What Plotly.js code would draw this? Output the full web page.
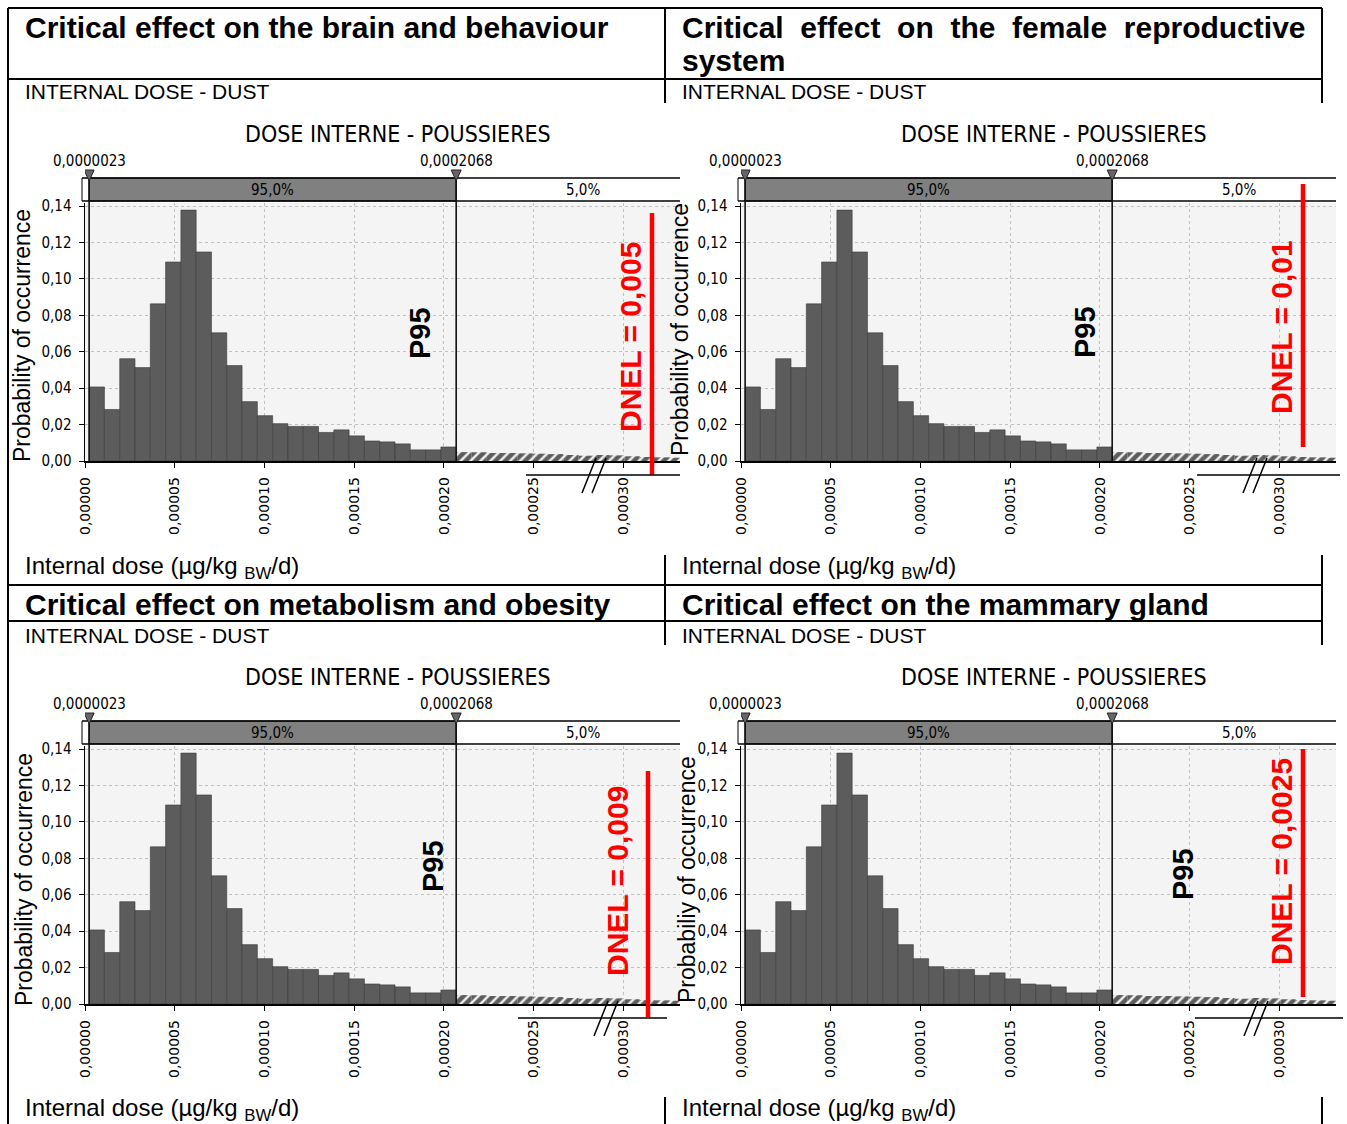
<!DOCTYPE html>
<html><head><meta charset="utf-8">
<script src="https://cdn.plot.ly/plotly-3.0.1.min.js"></script>
<style>html,body{margin:0;padding:0;background:#fff;}#chart{width:1347px;height:1124px;}</style>
</head><body><div id="chart"></div>
<script>
// ---------------- DATA ----------------
const panelTitles = ["Critical effect on the brain and behaviour",
  "Critical effect on the female reproductive system",
  "Critical effect on metabolism and obesity",
  "Critical effect on the mammary gland"];
const panelSubtitle = "INTERNAL DOSE - DUST";
const chartTitle = "DOSE INTERNE - POUSSIERES";
const yAxisTitles = ["Probability of occurrence", "Probability of occurrence",
  "Probability of occurrence", "Probabiliy of occurrence"];
const xAxisTitle = "Internal dose (µg/kg <sub>BW</sub>/d)";
const dnelValues = ["0,005", "0,01", "0,009", "0,0025"];
const percentileLabel = "P95";
const doseMin = 0.0000023;
const doseP95 = 0.0002068;
const shareBelow = 95.0;
const shareAbove = 5.0;
const probBelowP95 = [0.0407, 0.0283, 0.0562, 0.0513, 0.0863, 0.1093, 0.1378, 0.1148,
  0.0704, 0.0524, 0.0326, 0.0249, 0.0205, 0.0190, 0.0190, 0.0157, 0.0171, 0.0138,
  0.0110, 0.0105, 0.0094, 0.0061, 0.0061, 0.0077];
const probAboveP95 = [0.0049, 0.0048, 0.0044, 0.0044, 0.0042, 0.0040, 0.0038, 0.0033,
  0.0029, 0.0033, 0.0031, 0.0026, 0.0022, 0.0020, 0.0018];
const yTicks = [0, 0.02, 0.04, 0.06, 0.08, 0.10, 0.12, 0.14];
const xTicks = [0, 0.00005, 0.0001, 0.00015, 0.0002, 0.00025, 0.0003];

// ---------------- GEOMETRY (pixels) ----------------
const W = 1347, H = 1124;
const X = p => p / W, Y = p => 1 - p / H;
const offs = [[0, 0], [656, 0], [0, 543], [656, 543]];
const G = {plotL: 85, plotR: 680, plotT: 203, plotB: 461, bandL: 82, bandT: 178, bandB: 201,
  valY: 161, ctX: 398, ctY: 134, shareY: 190, aboveX: 583};
const yTitlePos = [[22, 336], [24, 330], [24, 337], [31, 337]];
const p95Pos = [[420, 333], [429, 332], [433, 323], [527, 331]];
const dnelTextPos = [[630, 337], [625, 327], [618, 338], [625, 319]];
const dnelLine = [[652, 213, 475], [647, 184, 447], [648, 228, 474], [647, 206, 454]];
const breakLine = [[526, 680, 594], [541, 684, 599], [518, 667, 606], [539, 687, 600]];
const xRange = [0, 0.0003315], yRange = [0, 0.1417];

const FA = "'Liberation Sans', Arial, sans-serif";
const FC = "'DejaVu Sans Condensed', 'DejaVu Sans', sans-serif";
const FD = "'DejaVu Sans', sans-serif";

const nBins = probBelowP95.length;
const bw = (doseP95 - doseMin) / nBins;
const xBelow = probBelowP95.map((_, i) => doseMin + (i + 0.5) * bw);
const xAbove = probAboveP95.map((_, i) => doseP95 + (i + 0.5) * bw);
const fmtComma = (v, d) => v.toFixed(d).replace('.', ',');

const data = [], shapes = [], annotations = [];
const layout = {width: W, height: H, margin: {l: 0, r: 0, t: 0, b: 0}, paper_bgcolor: '#fff',
  plot_bgcolor: '#f4f4f4', showlegend: false, barmode: 'overlay', separators: ', ',
  shapes, annotations};

for (let k = 0; k < 4; k++) {
  const [ox, oy] = offs[k];
  const s = k ? String(k + 1) : '';
  const xn = 'x' + s, yn = 'y' + s;
  layout['xaxis' + s] = {domain: [X(G.plotL + ox), X(G.plotR + ox)], range: xRange, anchor: yn,
    tickvals: xTicks, tickformat: '.5f', tickangle: -90, tickfont: {family: FD, size: 14, color: '#000'},
    showgrid: true, gridcolor: '#c0c0c0', griddash: 'dot', gridwidth: 1, showline: true, linecolor: '#000',
    linewidth: 1.5, ticks: 'outside', ticklen: 5, tickcolor: '#000', zeroline: false, fixedrange: true,
    ticklabelstandoff: 4};
  layout['yaxis' + s] = {domain: [Y(G.plotB + oy), Y(G.plotT + oy)], range: yRange, anchor: xn,
    tickvals: yTicks, tickformat: '.2f', tickfont: {family: FC, size: 15, color: '#000'},
    showgrid: true, gridcolor: '#c0c0c0', griddash: 'dot', gridwidth: 1, showline: true, linecolor: '#000',
    linewidth: 1.5, ticks: 'outside', ticklen: 5, tickcolor: '#000', zeroline: false, fixedrange: true,
    ticklabelstandoff: 4};

  data.push({type: 'bar', x: xBelow, y: probBelowP95, width: bw, xaxis: xn, yaxis: yn,
    marker: {color: '#5c5c5c', line: {color: '#3a3a3a', width: 0.6}}, hoverinfo: 'skip'});
  data.push({type: 'bar', x: xAbove, y: probAboveP95, width: bw, xaxis: xn, yaxis: yn,
    marker: {color: '#5c5c5c', line: {width: 0},
      pattern: {shape: '/', bgcolor: '#5c5c5c', fgcolor: '#f2f2f2', size: 7, solidity: 0.35}},
    hoverinfo: 'skip'});

  // band
  shapes.push({type: 'rect', xref: 'paper', yref: 'paper', x0: X(G.bandL + ox), x1: X(G.plotR + ox),
    y0: Y(G.bandB + oy), y1: Y(G.bandT + oy), fillcolor: '#fff', line: {width: 0}});
  shapes.push({type: 'rect', xref: xn, yref: 'paper', x0: doseMin, x1: doseP95,
    y0: Y(G.bandB + oy), y1: Y(G.bandT + oy), fillcolor: '#808080', line: {color: '#000', width: 1.2}});
  [G.bandT, G.bandB].forEach(yy => shapes.push({type: 'line', xref: 'paper', yref: 'paper',
    x0: X(G.bandL + ox), x1: X(G.plotR + ox), y0: Y(yy + oy), y1: Y(yy + oy), line: {color: '#000', width: 1.6}}));
  shapes.push({type: 'line', xref: 'paper', yref: 'paper', x0: X(G.bandL + ox), x1: X(G.bandL + ox),
    y0: Y(G.bandB + oy), y1: Y(G.bandT + oy), line: {color: '#000', width: 1}});
  // marker lines
  [doseMin, doseP95].forEach(v => {
    shapes.push({type: 'line', xref: xn, yref: 'paper', x0: v, x1: v, y0: Y(G.plotB + oy), y1: Y(176 + oy),
      line: {color: '#111', width: 1.6}, layer: 'above'});
    shapes.push({type: 'path', xref: xn, yref: 'paper', xsizemode: 'pixel', xanchor: v,
      path: `M -5,${Y(170 + oy)} L 5,${Y(170 + oy)} L 0,${Y(181 + oy)} Z`,
      fillcolor: '#666', line: {color: '#222', width: 1}, layer: 'above'});
  });
  // DNEL line
  const dl = dnelLine[k];
  shapes.push({type: 'line', xref: 'paper', yref: 'paper', x0: X(dl[0] + ox), x1: X(dl[0] + ox),
    y0: Y(dl[1] + oy), y1: Y(dl[2] + oy), line: {color: '#ff0000', width: 4.5}, layer: 'above'});
  // axis break
  const bl = breakLine[k];
  shapes.push({type: 'line', xref: 'paper', yref: 'paper', x0: X(bl[0] + ox), x1: X(bl[1] + ox),
    y0: Y(475 + oy), y1: Y(475 + oy), line: {color: '#000', width: 1.5}});
  [-5, 5].forEach(d => {
    shapes.push({type: 'line', xref: 'paper', yref: 'paper', x0: X(bl[2] + d + 7 + ox), x1: X(bl[2] + d - 7 + ox),
      y0: Y(458 + oy), y1: Y(493 + oy), line: {color: '#000', width: 1.5}});
  });

  // texts
  annotations.push({xref: 'paper', yref: 'paper', x: X(G.ctX + ox), y: Y(G.ctY + oy), text: chartTitle,
    showarrow: false, xanchor: 'center', yanchor: 'middle', font: {family: FC, size: 23, color: '#000'}});
  annotations.push({xref: xn, yref: 'paper', x: doseMin, y: Y(G.valY + oy), text: fmtComma(doseMin, 7),
    showarrow: false, xanchor: 'center', yanchor: 'middle', font: {family: FC, size: 15, color: '#000'}});
  annotations.push({xref: xn, yref: 'paper', x: doseP95, y: Y(G.valY + oy), text: fmtComma(doseP95, 7),
    showarrow: false, xanchor: 'center', yanchor: 'middle', font: {family: FC, size: 15, color: '#000'}});
  annotations.push({xref: xn, yref: 'paper', x: (doseMin + doseP95) / 2, y: Y(G.shareY + oy),
    text: fmtComma(shareBelow, 1) + '%', showarrow: false, xanchor: 'center', yanchor: 'middle',
    font: {family: FC, size: 15, color: '#000'}});
  annotations.push({xref: 'paper', yref: 'paper', x: X(G.aboveX + ox), y: Y(G.shareY + oy),
    text: fmtComma(shareAbove, 1) + '%', showarrow: false, xanchor: 'center', yanchor: 'middle',
    font: {family: FC, size: 15, color: '#000'}});
  annotations.push({xref: 'paper', yref: 'paper', x: X(yTitlePos[k][0] + ox), y: Y(yTitlePos[k][1] + oy),
    text: yAxisTitles[k], textangle: -90, showarrow: false, xanchor: 'center', yanchor: 'middle',
    font: {family: FA, size: 23, color: '#000'}});
  annotations.push({xref: 'paper', yref: 'paper', x: X(p95Pos[k][0] + ox), y: Y(p95Pos[k][1] + oy),
    text: '<b>' + percentileLabel + '</b>', textangle: -90, showarrow: false, xanchor: 'center', yanchor: 'middle',
    font: {family: FA, size: 29, color: '#000'}});
  annotations.push({xref: 'paper', yref: 'paper', x: X(dnelTextPos[k][0] + ox), y: Y(dnelTextPos[k][1] + oy),
    text: '<b>DNEL = ' + dnelValues[k] + '</b>', textangle: -90, showarrow: false, xanchor: 'center', yanchor: 'middle',
    font: {family: FA, size: 30, color: '#ff0000'}});
}

// table frame + headings
const tl = (x0, y0, x1, y1) => shapes.push({type: 'line', xref: 'paper', yref: 'paper',
  x0: X(x0), x1: X(x1), y0: Y(y0), y1: Y(y1), line: {color: '#000', width: 2}, layer: 'above'});
[8, 79, 585, 621].forEach(y => tl(8, y, 1322, y));
tl(8, 8, 8, 1124);
[665, 1322].forEach(x => { tl(x, 8, x, 103); tl(x, 555, x, 645); tl(x, 1097, x, 1124); });

const titleFont = {family: FA, size: 30, color: '#000'};
const leftX = [23, 680];
const txt = (x, y, t, f, anchor) => annotations.push({xref: 'paper', yref: 'paper', x: X(x), y: Y(y),
  text: t, showarrow: false, xanchor: anchor || 'left', yanchor: 'middle', font: f});

txt(leftX[0], 27, '<b>' + panelTitles[0] + '</b>', titleFont);
const tw = panelTitles[1].split(' ');
// justified first line (double non-breaking spaces), last word on its own line
txt(leftX[1], 27, '<b>' + tw.slice(0, tw.length - 1).join('\u00A0\u00A0') + '</b>', titleFont);
txt(leftX[1], 61, '<b>' + tw[tw.length - 1] + '</b>', titleFont);
txt(leftX[0], 604, '<b>' + panelTitles[2] + '</b>', titleFont);
txt(leftX[1], 604, '<b>' + panelTitles[3] + '</b>', titleFont);

const subFont = {family: FA, size: 21, color: '#000'};
[[23, 92], [680, 92], [23, 635], [680, 635]].forEach(p => txt(p[0], p[1], panelSubtitle, subFont));
const xtFont = {family: FA, size: 24, color: '#000'};
[[23, 567], [680, 567], [23, 1109], [680, 1109]].forEach(p => txt(p[0], p[1], xAxisTitle, xtFont));

Plotly.newPlot('chart', data, layout, {staticPlot: true});
</script></body></html>
